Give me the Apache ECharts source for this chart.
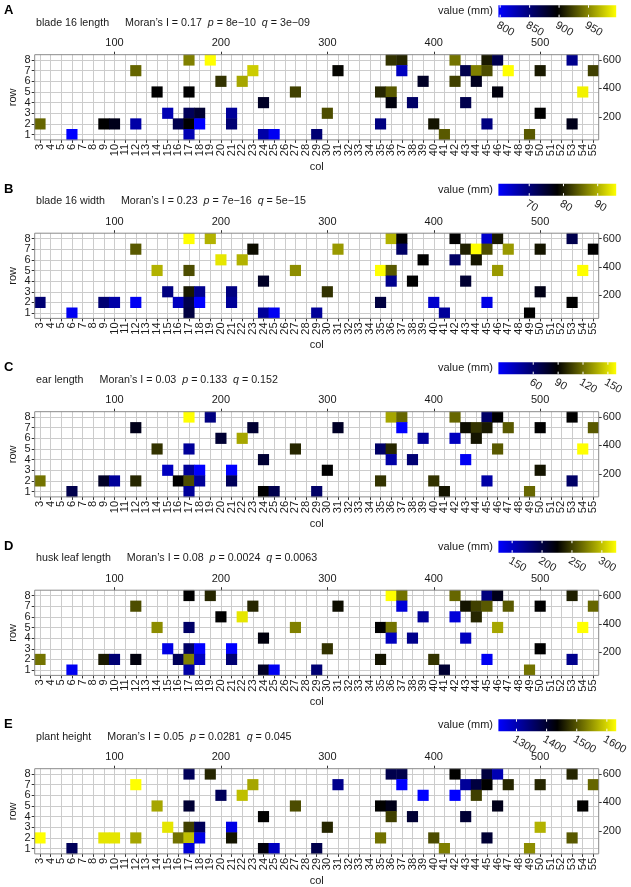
<!DOCTYPE html>
<html><head><meta charset="utf-8">
<script src="https://cdn.jsdelivr.net/npm/echarts@6/dist/echarts.min.js"></script>
<style>html,body{margin:0;padding:0;background:#fff}#c{width:631px;height:887px}</style>
</head><body><div id="c"></div>
<script>
// ---- categories ----
const colLabels = ['3','4','5','6','7','8','9','10','11','12','13','14','15','16','17','18','19','20','21','22','23','24','25','26','27','28','29','30','31','32','33','34','35','36','37','38','39','40','41','42','43','44','45','46','47','48','49','50','51','52','53','54','55'];
const rowLabels = ['1','2','3','4','5','6','7','8'];
const topTicks = [100,200,300,400,500];
const rightTicks = [200,400,600];

// ---- plant positions (col,row) ----
const plantCol = [17,19,12,23,20,22,14,17,27,24,15,17,18,21,3,9,10,12,16,17,18,21,6,17,24,25,29,36,37,42,45,46,53,31,37,43,44,45,47,50,55,39,42,44,35,36,46,54,36,38,43,30,50,35,40,45,53,41,49];
const plantRow = [8,8,7,7,6,6,5,5,5,4,3,3,3,3,2,2,2,2,2,2,2,2,1,1,1,1,1,8,8,8,8,8,8,7,7,7,7,7,7,7,7,6,6,6,5,5,5,5,4,4,4,3,3,2,2,2,2,1,1];

// ---- trait values (mm) ----
const bladeLength = [947,997,937,977,917,962,897,897,922,882,827,862,877,837,937,897,887,832,867,897,797,852,797,827,832,802,852,917,912,942,907,867,842,899,822,867,947,927,997,907,922,882,922,885,912,932,892,992,892,857,867,927,897,847,905,847,887,932,932];
const bladeWidth = [95.4,90.2,84.2,79.1,93.7,90.2,90.2,83.4,87.7,75.6,69.6,79.9,68.7,69.6,70.5,70.5,67.0,61.9,65.3,73.0,61.0,67.9,61.9,73.9,67.9,61.9,67.9,90.2,78.2,78.2,64.4,79.9,73.0,88.5,71.3,80.3,95.4,83.4,88.5,79.6,78.2,78.2,71.3,79.6,95.4,84.2,88.5,95.4,68.7,78.2,74.8,81.6,76.8,73.9,64.4,62.7,78.2,67.9,78.2];
const earLength = [160,53.5,81.9,74.8,74.8,135.2,103.2,46.4,99.7,74.8,35.8,46.4,18,18,121,78.4,46.4,99.7,89,110.3,46.4,64.2,67.7,46.4,89,67.7,60.6,135.2,117.4,117.4,60.6,89,89,78.4,18,92.6,103.2,96.1,113.9,89,113.9,46.4,35.8,94.7,60.6,99.7,113.9,160,42.9,57.1,21.6,89,94.7,103.2,103.2,42.9,60.6,94.7,117.4];
const huskLength = [225.5,240.3,255.1,240.3,225.5,314.2,279.7,186.1,274.8,220.6,136.9,186.1,127,127,269.8,235.4,181.2,220.6,191.0,274.8,151.6,181.2,131.9,161.5,210.7,131.9,181.2,324,269.8,264.9,176.3,215.7,237.3,230.4,141.8,233.4,250.1,260,260,225.5,264.9,166.4,141.8,240.3,225.5,269.8,289.5,324,151.6,171.3,151.6,245.2,225.5,233.4,245.2,131.9,171.3,205.8,269.8];
const plantHeight = [1367,1465,1631,1563,1367,1582,1563,1396,1494,1436,1611,1484,1367,1260,1631,1611,1611,1563,1523,1582,1260,1451,1367,1269,1426,1289,1377,1377,1377,1436,1387,1299,1465,1328,1240,1318,1387,1436,1465,1465,1514,1240,1240,1484,1436,1416,1416,1436,1484,1396,1396,1465,1572,1523,1494,1396,1504,1533,1543];

// ---- legend ticks ----
const legendTicksA = [800,850,900,950];
const legendTicksB = [70,80,90];
const legendTicksC = [60,90,120,150];
const legendTicksD = [150,200,250,300];
const legendTicksE = [1300,1400,1500,1600];

const panelLetters = ['A','B','C','D','E'];
const traitNames = ['blade 16 length','blade 16 width','ear length','husk leaf length','plant height'];
const moranI = ['0.17','0.23','0.03','0.08','0.05'];
const pValues = ['8e\u221210','7e\u221216','0.133','0.0024','0.0281'];
const qValues = ['3e\u221209','5e\u221215','0.152','0.0063','0.045'];
const traitValues = [bladeLength, bladeWidth, earLength, huskLength, plantHeight];
const legendTicks = [legendTicksA, legendTicksB, legendTicksC, legendTicksD, legendTicksE];

const FONT = "'Liberation Sans', Arial, Helvetica, sans-serif";
const TXT = '#1a1a1a';
const GL = 34.7, GW = 564, GH = 85.2;
const T = i => 54.7 + 178.5 * i;
const BAR_X = 498.4, BAR_W = 117.8, BAR_H = 12;

const chart = echarts.init(document.getElementById('c'), null, {renderer: 'canvas'});
const option = {animation: false, textStyle: {fontFamily: FONT}, grid: [], xAxis: [], yAxis: [], visualMap: [], series: [], graphic: []};

traitValues.forEach((vals, i) => {
  const top = T(i);
  const vmin = Math.min(...vals), vmax = Math.max(...vals);
  option.grid.push({left: GL, top: top, width: GW, height: GH, show: true, backgroundColor: '#fff', borderWidth: 0});
  option.xAxis.push({
    type: 'category', gridIndex: i, data: colLabels, position: 'bottom',
    axisLine: {show: false},
    axisTick: {show: true, alignWithLabel: true, interval: 0, length: 3, lineStyle: {color: '#333'}},
    axisLabel: {interval: 0, rotate: 90, fontSize: 11, color: TXT, margin: 4, fontFamily: FONT},
    splitLine: {show: true, interval: 0, alignWithLabel: true, lineStyle: {color: '#cccccc', width: 1}}
  });
  option.xAxis.push({
    type: 'value', gridIndex: i, position: 'top', min: 25, max: 555, splitNumber: 5,
    axisLine: {show: false},
    axisTick: {show: true, length: 3, customValues: topTicks, lineStyle: {color: '#333'}},
    axisLabel: {fontSize: 11, color: TXT, margin: 6, fontFamily: FONT, customValues: topTicks},
    splitLine: {show: false}
  });
  option.yAxis.push({
    type: 'category', gridIndex: i, data: rowLabels, position: 'left',
    axisLine: {show: false},
    axisTick: {show: true, alignWithLabel: true, interval: 0, length: 3, lineStyle: {color: '#333'}},
    axisLabel: {interval: 0, fontSize: 11, color: TXT, margin: 4, fontFamily: FONT},
    splitLine: {show: true, interval: 0, alignWithLabel: true, lineStyle: {color: '#cccccc', width: 1}}
  });
  option.yAxis.push({
    type: 'value', gridIndex: i, position: 'right', min: 37.5, max: 637.5, splitNumber: 3,
    axisLine: {show: false},
    axisTick: {show: true, length: 3, customValues: rightTicks, lineStyle: {color: '#333'}},
    axisLabel: {fontSize: 11, color: TXT, margin: 4, fontFamily: FONT, customValues: rightTicks},
    splitLine: {show: false}
  });
  option.visualMap.push({type: 'continuous', show: false, seriesIndex: i, dimension: 2, min: vmin, max: vmax,
    inRange: {color: ['#0000ff', '#000000', '#ffff00']}});
  option.series.push({
    type: 'heatmap', xAxisIndex: 2 * i, yAxisIndex: 2 * i,
    data: vals.map((v, k) => [colLabels.indexOf(String(plantCol[k])), rowLabels.indexOf(String(plantRow[k])), v]),
    itemStyle: {borderWidth: 0}, emphasis: {disabled: true}, progressive: 0
  });

  // panel border
  option.graphic.push({type: 'rect', z: 100, shape: {x: GL, y: top, width: GW, height: GH},
    style: {fill: 'none', stroke: '#8a8a8a', lineWidth: 1}});
  // letter
  option.graphic.push({type: 'text', x: 4, y: top - 44, style: {text: panelLetters[i], fontSize: 13, fontWeight: 'bold', fontFamily: FONT, fill: '#000', verticalAlign: 'middle'}});
  // title
  option.graphic.push({type: 'text', x: 36, y: top - 32, style: {
    text: '{a|' + traitNames[i] + '}{g| }{a|Moran\u2019s I = ' + moranI[i] + '  }{i|p}{a| = ' + pValues[i] + '  }{i|q}{a| = ' + qValues[i] + '}',
    verticalAlign: 'middle', fill: TXT, fontSize: 10.7, fontFamily: FONT,
    rich: {a: {fontSize: 10.7, fontFamily: FONT, fill: TXT}, i: {fontSize: 10.7, fontFamily: FONT, fontStyle: 'italic', fill: TXT}, g: {width: 16, fontSize: 10.7}}
  }});
  // legend title
  option.graphic.push({type: 'text', x: 493, y: top - 43.5, style: {text: 'value (mm)', fontSize: 11, fontFamily: FONT, fill: TXT, align: 'right', verticalAlign: 'middle'}});
  // colour bar
  option.graphic.push({type: 'rect', shape: {x: BAR_X, y: top - 49.5, width: BAR_W, height: BAR_H},
    style: {fill: new echarts.graphic.LinearGradient(0, 0, 1, 0, [{offset: 0, color: '#0000ff'}, {offset: 0.5, color: '#000000'}, {offset: 1, color: '#ffff00'}])}});
  legendTicks[i].forEach(t => {
    const xt = BAR_X + (t - vmin) / (vmax - vmin) * BAR_W;
    option.graphic.push({type: 'line', z: 10, shape: {x1: xt, y1: top - 49.5, x2: xt, y2: top - 47}, style: {stroke: '#fff', lineWidth: 1}});
    option.graphic.push({type: 'line', z: 10, shape: {x1: xt, y1: top - 40, x2: xt, y2: top - 37.5}, style: {stroke: '#fff', lineWidth: 1}});
    option.graphic.push({type: 'text', x: xt, y: top - 35, rotation: -Math.PI / 6,
      style: {text: String(t), fontSize: 11, fontFamily: FONT, fill: TXT, align: 'left', verticalAlign: 'top'}});
  });
  // axis titles
  option.graphic.push({type: 'text', x: 13, y: top + GH / 2, rotation: Math.PI / 2,
    style: {text: 'row', fontSize: 11, fontFamily: FONT, fill: TXT, align: 'center', verticalAlign: 'middle'}});
  option.graphic.push({type: 'text', x: GL + GW / 2, y: top + 112, style: {text: 'col', fontSize: 11, fontFamily: FONT, fill: TXT, align: 'center', verticalAlign: 'middle'}});
});

chart.setOption(option);
</script>
</body></html>
